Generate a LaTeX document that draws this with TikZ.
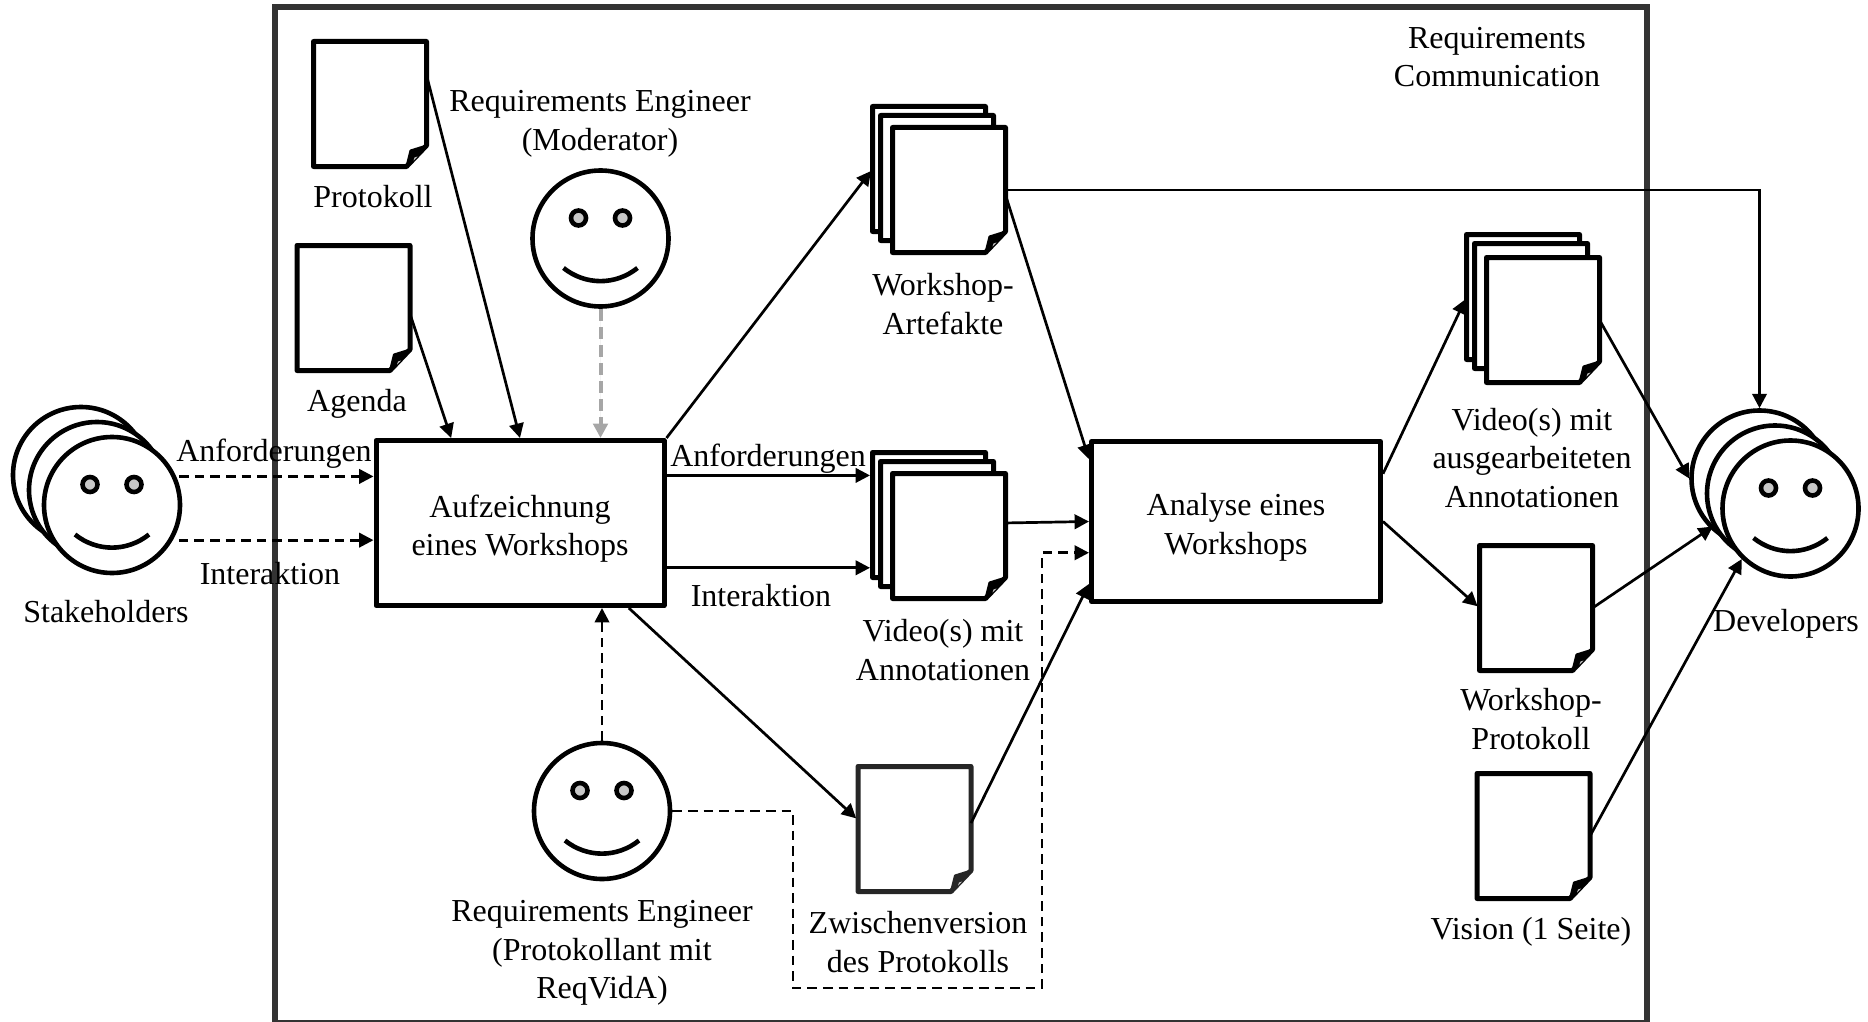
\documentclass[tikz,border=0pt]{standalone}
\usepackage{fontspec}
\setmainfont{Liberation Serif}
\usetikzlibrary{arrows.meta, calc}
\definecolor{framegray}{HTML}{333333}
\definecolor{sheetgray}{HTML}{262626}
\definecolor{eyegray}{HTML}{C8C8C8}

% sheet of paper with a folded corner
\newcommand{\docsheet}[3][black]{%
    \node[sheet] (#2) at (#3) {};
    \draw[sheet line, draw=#1, fill=white] (#2.north west) -- (#2.north east) -- ($(#2.south east)+(0,-21)$) -- ($(#2.south east)+(-20,0)$) -- (#2.south west) -- cycle;
    \filldraw[draw=#1, fill=#1, line width=1pt, line join=round] ($(#2.south east)+(-20,0)$) -- ($(#2.south east)+(-16,-16)$) -- ($(#2.south east)+(0,-21)$) -- cycle;
    \fill[eyegray] ($(#2.south east)+(-13,-6)$) -- ($(#2.south east)+(-12,-9)$) -- ($(#2.south east)+(-9,-10)$) -- cycle;
}
% face with eyes and smile
\newcommand{\smiley}[2]{%
    \node[face] (#1) at (#2) {};
    \draw[eye] ($(#1)+(-22,-20.5)$) circle[radius=3.75pt];
    \draw[eye] ($(#1)+(22,-20.5)$) circle[radius=3.75pt];
    \draw[smile] ($(#1)+(-37,29.5)$) .. controls ($(#1)+(-15,47)$) and ($(#1)+(15,47)$) .. ($(#1)+(37,29.5)$);
}

\begin{document}
\begin{tikzpicture}[x=0.5pt, y=-0.5pt]
    % Define styles
    \tikzset{
        sheet/.style={rectangle, minimum width=56.5pt, minimum height=62.5pt, inner sep=0pt, outer sep=0pt},
        sheet line/.style={line width=2.5pt, line join=round},
        face/.style={circle, draw=black, fill=white, line width=2.3pt, minimum size=68pt, inner sep=0pt},
        eye/.style={draw=black, fill=eyegray, line width=2.3pt},
        smile/.style={draw=black, line width=2.3pt},
        process box/.style={rectangle, draw=black, line width=2.5pt, line join=round, align=center, font=\fontsize{16}{19.3}\selectfont},
        frame box/.style={rectangle, draw=framegray, line width=2.7pt, minimum width=686pt, minimum height=508pt, inner sep=0pt},
        caption style/.style={align=center, inner sep=0pt, font=\fontsize{16}{19.3}\selectfont},
        arrow style/.style={-{Triangle[length=7.2pt, width=7.2pt]}, line width=1.35pt},
        dash arrow/.style={arrow style, dash pattern=on 4.8pt off 3pt},
        to sheet/.style={shorten >=1.25pt}
    }
    \useasboundingbox (0,0) rectangle (1868,1022);

    % Surrounding frame
    \node[frame box] (commFrame) at (961,515) {};

    % Documents
    \docsheet{protokoll}{370,104}
    \docsheet{agenda}{353.5,308}
    \docsheet{artC}{929,169}
    \docsheet{artB}{937,178}
    \docsheet{artA}{949,190}
    \docsheet{vidC}{929,515}
    \docsheet{vidB}{937,524}
    \docsheet{vidA}{949,536}
    \docsheet{ausC}{1523,297}
    \docsheet{ausB}{1531,306}
    \docsheet{ausA}{1543,320}
    \docsheet{wsProt}{1536,608}
    \docsheet{vision}{1533.5,836}
    \docsheet[sheetgray]{zwischen}{914.5,829}

    % Faces
    \smiley{moderator}{600.5,238.5}
    \smiley{protokollant}{602,811}
    \node[face] (shC) at (81,475) {};
    \node[face] (shB) at (97,490) {};
    \smiley{shA}{112,505}
    \node[face] (devC) at (1759.5,478.5) {};
    \node[face] (devB) at (1775,493.5) {};
    \smiley{devA}{1790.5,508.5}

    % Process boxes
    \node[process box, minimum width=144pt, minimum height=82.5pt] (aufz) at (520,523) {\rule{0pt}{17pt}Aufzeichnung\\eines Workshops};
    \node[process box, minimum width=144.5pt, minimum height=80pt] (analyse) at (1236,521.5) {\rule{0pt}{17pt}Analyse eines\\Workshops};

    % Texts
    \node[caption style] (capComm) at (1497,57) {Requirements\\Communication};
    \node[caption style] (capMod) at (600,124) {Requirements Engineer\\(Moderator)};
    \node[caption style] (capProt) at (373,197) {Protokoll};
    \node[caption style] (capAgenda) at (357,404) {Agenda};
    \node[caption style] (capArt) at (943,304) {Workshop-\\Artefakte};
    \node[caption style] (capVid) at (943,650) {Video(s) mit\\Annotationen};
    \node[caption style] (capAus) at (1532,458) {Video(s) mit\\ausgearbeiteten\\Annotationen};
    \node[caption style] (capWs) at (1531,719) {Workshop-\\Protokoll};
    \node[caption style] (capVision) at (1531,932) {Vision (1 Seite)};
    \node[caption style] (capDev) at (1786,624) {Developers};
    \node[caption style] (capSh) at (106,612) {Stakeholders};
    \node[caption style] (capZw) at (918,942) {Zwischenversion\\des Protokolls};
    \node[caption style] (capRe) at (602,953) {Requirements Engineer\\(Protokollant mit\\ReqVidA)};
    \node[caption style] (capAnfL) at (274,454) {Anforderungen};
    \node[caption style] (capIntL) at (270,574) {Interaktion};
    \node[caption style] (capAnfM) at (768,459) {Anforderungen};
    \node[caption style] (capIntM) at (761,596) {Interaktion};

    % Corners of the dashed route
    \coordinate (dashA) at (793,988);
    \coordinate (dashB) at (1042,988);

    % Into the recording workshop
    \draw[dash arrow, shorten <=1.5pt] (shA.24) -- (shA.24 -| aufz.west);
    \draw[dash arrow, shorten <=3pt] (shA.-30) -- (shA.-30 -| aufz.west);
    \draw[arrow style] (protokoll.27) -- (aufz.north);
    \draw[arrow style] (agenda.-6) -- (aufz.129);
    \draw[dash arrow, draw=gray!70, fill=gray!70, line width=2pt, dash pattern=on 6pt off 3pt] (moderator.south) -- (moderator.south |- aufz.north);
    \draw[dash arrow] (protokollant.north) -- (protokollant.north |- aufz.south);

    % Out of the recording workshop
    \draw[arrow style, to sheet] (aufz.north east) -- (artC.west);
    \draw[arrow style, to sheet] (aufz.18) -- (aufz.18 -| vidC.west);
    \draw[arrow style, to sheet] (aufz.-17) -- (aufz.-17 -| vidC.west);
    \draw[arrow style, to sheet] (aufz.-38) -- (zwischen.171);

    % Into the analysis
    \draw[arrow style] (artA.-5) -- (analyse.157);
    \draw[arrow style] (vidA.13) -- (analyse.west);
    \draw[arrow style] (zwischen.6) -- (analyse.203);
    \draw[dash arrow] (protokollant.east) -| (dashA) -- (dashB) |- (analyse.192);

    % Out of the analysis
    \draw[arrow style, to sheet] (analyse.18) -- (ausC.west);
    \draw[arrow style, to sheet] (analyse.east) -- (wsProt.west);

    % To the developers
    \draw[arrow style] (artA.east) -| (devC.north);
    \draw[arrow style] (ausA.east) -- (devC.west);
    \draw[arrow style] (wsProt.east) -- (devB.208);
    \draw[arrow style] (vision.east) -- (devA.226);
\end{tikzpicture}
\end{document}
